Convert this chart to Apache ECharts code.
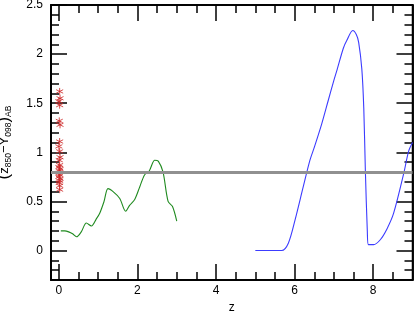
<!DOCTYPE html>
<html>
<head>
<meta charset="utf-8">
<script src="https://cdn.jsdelivr.net/npm/echarts@6/dist/echarts.min.js"></script>
<style>
html,body{margin:0;padding:0;background:#fff;}
#chart{width:414px;height:311px;}
</style>
</head>
<body>
<div id="chart"></div>
<script>
// ---- data ----
const starX = [0.02, 0.03, 0.00, 0.02, 0.01, 0.03, 0.02, 0.00, 0.02, 0.03, 0.01, 0.02, 0.00, 0.03, 0.02, 0.01, 0.02, 0.00, 0.03, 0.02, 0.01, 0.02, 0.02];
const starY = [1.62, 1.55, 1.52, 1.48, 1.32, 1.28, 1.11, 1.06, 1.01, 0.95, 0.92, 0.87, 0.85, 0.83, 0.81, 0.79, 0.77, 0.75, 0.73, 0.71, 0.69, 0.66, 0.62];

const greenX = [0.05, 0.15, 0.25, 0.35, 0.45, 0.57, 0.70, 0.83, 0.95, 1.04, 1.15, 1.25, 1.38, 1.55, 1.70, 1.80, 1.93, 2.06, 2.18, 2.30, 2.44, 2.53, 2.65, 2.78, 2.89, 3.00];
const greenY = [0.20, 0.20, 0.19, 0.17, 0.14, 0.19, 0.28, 0.25, 0.32, 0.38, 0.50, 0.63, 0.60, 0.53, 0.40, 0.46, 0.52, 0.65, 0.77, 0.81, 0.92, 0.91, 0.80, 0.50, 0.45, 0.30];

const blueX = [5.00, 5.30, 5.67, 5.84, 6.01, 6.22, 6.39, 6.50, 6.69, 6.85, 6.99, 7.08, 7.24, 7.33, 7.48, 7.57, 7.63, 7.71, 7.76, 7.80, 7.85, 7.88, 8.01, 8.18, 8.35, 8.52, 8.78, 8.90, 9.00];
const blueY = [0.00, 0.00, 0.00, 0.075, 0.31, 0.65, 0.92, 1.05, 1.29, 1.52, 1.72, 1.84, 2.06, 2.14, 2.24, 2.20, 2.12, 1.85, 1.45, 0.82, 0.20, 0.06, 0.06, 0.11, 0.22, 0.38, 0.79, 1.01, 1.10];

const refLineY = 0.8;

const xMajorTicks = [0, 2, 4, 6, 8];
const xMinorTicks = [0, 0.5, 1, 1.5, 2, 2.5, 3, 3.5, 4, 4.5, 5, 5.5, 6, 6.5, 7, 7.5, 8, 8.5];
const yMajorTicks = [0, 0.5, 1, 1.5, 2, 2.5];
const yMinorTicks = [-0.2, -0.1, 0, 0.1, 0.2, 0.3, 0.4, 0.5, 0.6, 0.7, 0.8, 0.9, 1, 1.1, 1.2, 1.3, 1.4, 1.5, 1.6, 1.7, 1.8, 1.9, 2, 2.1, 2.2, 2.3, 2.4];

const xRange = [-0.2, 9];
const yRange = [-0.3, 2.5];

// ---- chart ----
const FONT = 'Liberation Sans, Arial, sans-serif';
const zip = (a, b) => a.map((v, i) => [v, b[i]]);
const GRID = {left: 51, right: 1.5, top: 5, bottom: 31, containLabel: false, outerBoundsMode: 'none'};

function ax(kind, grid, pos, ticks, len, labels) {
  const r = kind === 'x' ? xRange : yRange;
  return {
    type: 'value', gridIndex: grid, position: pos, min: r[0], max: r[1],
    axisLine: {show: true, onZero: false, lineStyle: {color: '#000', width: 1.5}},
    axisTick: {show: true, inside: true, length: len, customValues: ticks, lineStyle: {color: '#000', width: 1.5}},
    axisLabel: labels
      ? {show: true, customValues: kind === 'x' ? xMajorTicks : yMajorTicks, color: '#000',
         fontSize: 12, fontFamily: FONT, margin: kind === 'x' ? 5 : 8}
      : {show: false},
    splitLine: {show: false}
  };
}

const xMain = ax('x', 0, 'bottom', xMajorTicks, 16, true);
xMain.name = 'z';
xMain.nameLocation = 'middle';
xMain.nameGap = 20;
xMain.nameTextStyle = {color: '#000', fontSize: 12, fontFamily: FONT};

const yMain = ax('y', 0, 'left', yMajorTicks, 16, true);
yMain.name = '{p|(}{n|z}{s|850}{n|\u2212Y}{s|098}{p|)}{s|AB}';
yMain.nameLocation = 'middle';
yMain.nameRotate = 90;
yMain.nameGap = 25;
yMain.nameTextStyle = {
  color: '#000', fontFamily: FONT,
  rich: {
    p: {fontSize: 17, fontFamily: FONT, color: '#000', lineHeight: 22, verticalAlign: 'middle'},
    n: {fontSize: 13, fontFamily: FONT, color: '#000', lineHeight: 22, verticalAlign: 'middle'},
    s: {fontSize: 8.5, fontFamily: FONT, color: '#000', lineHeight: 22, verticalAlign: 'bottom', padding: [0, 0, 2, 0]}
  }
};

const starPath = 'path://M0,-5L0,5M-4.33,-2.5L4.33,2.5M-4.33,2.5L4.33,-2.5';

const option = {
  animation: false,
  backgroundColor: '#fff',
  grid: [
    Object.assign({show: true, borderColor: '#000', borderWidth: 1.5, backgroundColor: 'transparent'}, GRID),
    Object.assign({}, GRID)
  ],
  xAxis: [
    xMain,
    ax('x', 0, 'top', xMajorTicks, 16, false),
    ax('x', 1, 'bottom', xMinorTicks, 8, false),
    ax('x', 1, 'top', xMinorTicks, 8, false)
  ],
  yAxis: [
    yMain,
    ax('y', 0, 'right', yMajorTicks, 16, false),
    ax('y', 1, 'left', yMinorTicks, 8, false),
    ax('y', 1, 'right', yMinorTicks, 8, false)
  ],
  series: [
    {
      type: 'line', data: [], xAxisIndex: 0, yAxisIndex: 0, silent: true,
      markLine: {
        silent: true, symbol: ['none', 'none'], label: {show: false},
        lineStyle: {color: '#909090', width: 3, type: 'solid'},
        data: [{yAxis: refLineY}]
      },
      z: 1
    },
    {
      type: 'line', data: zip(greenX, greenY), smooth: 0.3, symbol: 'none',
      xAxisIndex: 0, yAxisIndex: 0,
      lineStyle: {color: '#1f8a1f', width: 1.1}, z: 3
    },
    {
      type: 'line', data: zip(blueX, blueY), smooth: 0.3, symbol: 'none', clip: true,
      xAxisIndex: 0, yAxisIndex: 0,
      lineStyle: {color: '#3c3cff', width: 1.1}, z: 3
    },
    {
      type: 'scatter', data: zip(starX, starY), symbol: starPath, symbolSize: 7,
      xAxisIndex: 0, yAxisIndex: 0,
      itemStyle: {color: 'transparent', borderColor: '#cc2222', borderWidth: 1}, z: 4
    }
  ]
};

const chart = echarts.init(document.getElementById('chart'), null, {renderer: 'canvas'});
chart.setOption(option);
</script>
</body>
</html>
